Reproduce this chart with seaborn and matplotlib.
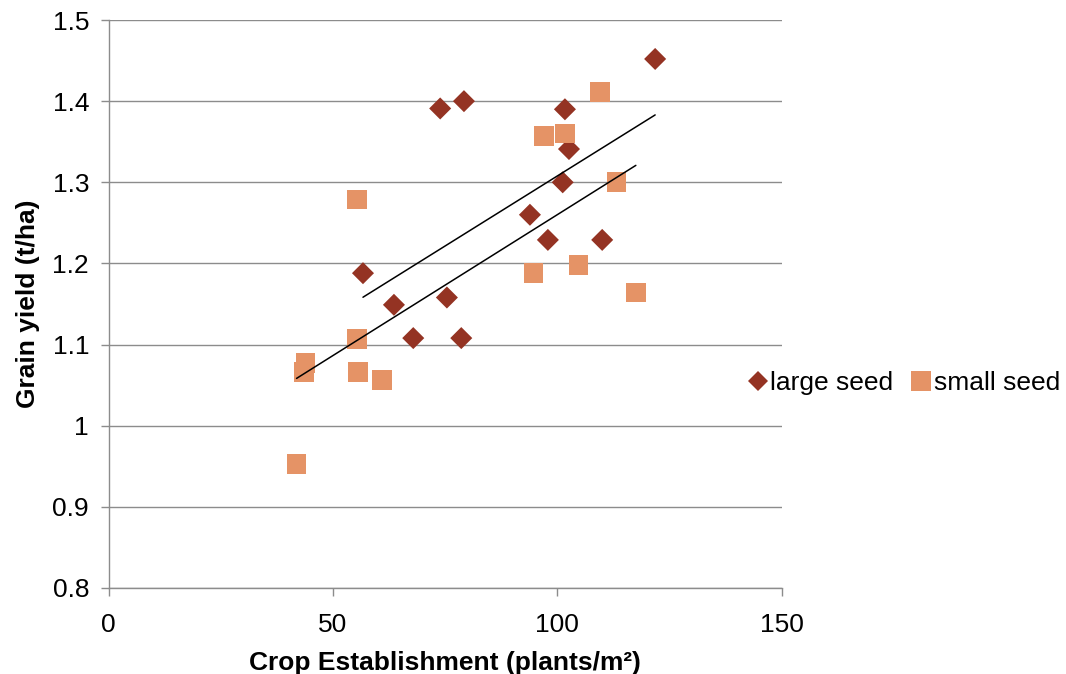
import matplotlib
matplotlib.use("Agg")
import matplotlib.pyplot as plt
from matplotlib.lines import Line2D
from matplotlib.ticker import FuncFormatter
import seaborn as sns
import pandas as pd

# values
large_x = [121.8, 73.9, 79.2, 101.7, 102.6, 101.2, 93.9, 97.9, 110.0, 56.7, 63.6, 75.4, 67.9, 78.6]
large_y = [1.452, 1.391, 1.400, 1.390, 1.341, 1.300, 1.260, 1.229, 1.229, 1.188, 1.149, 1.158, 1.108, 1.108]
small_x = [109.5, 97.1, 101.7, 113.2, 55.3, 94.7, 104.7, 117.5, 55.4, 43.9, 43.6, 55.6, 60.9, 41.9]
small_y = [1.411, 1.357, 1.360, 1.300, 1.279, 1.188, 1.198, 1.164, 1.107, 1.077, 1.066, 1.066, 1.056, 0.953]

x_ticks = [0, 50, 100, 150]
y_ticks = [0.8, 0.9, 1.0, 1.1, 1.2, 1.3, 1.4, 1.5]

df = pd.concat([
    pd.DataFrame({"x": large_x, "y": large_y, "series": "large seed"}),
    pd.DataFrame({"x": small_x, "y": small_y, "series": "small seed"}),
])

sns.set_style("white")
plt.rcParams["font.family"] = ["Liberation Sans", "DejaVu Sans"]

colors = {"large seed": "#943323", "small seed": "#E59366"}
markers = {"large seed": "D", "small seed": "s"}
msize = {"large seed": 126, "small seed": 200}

fig = plt.figure(figsize=(10.66, 6.74), dpi=100)
ax = fig.add_axes([0.1018, 0.1276, 0.6315, 0.8427])

for name, grp in df.groupby("series"):
    sns.scatterplot(data=grp, x="x", y="y", marker=markers[name], color=colors[name],
                    s=msize[name], edgecolor="none", linewidth=0, ax=ax, zorder=3)

# linear trendlines, one per series
for name, grp in df.groupby("series"):
    sns.regplot(data=grp, x="x", y="y", scatter=False, ci=None, truncate=True,
                color="black", line_kws={"linewidth": 1.1, "zorder": 4}, ax=ax)

ax.set_xlim(0, 150)
ax.set_ylim(0.8, 1.5)
ax.set_xticks(x_ticks)
ax.set_yticks(y_ticks)
ax.yaxis.set_major_formatter(FuncFormatter(lambda v, p: "%g" % round(v, 2)))
ax.grid(axis="y", color="#8c8c8c", linewidth=1)
ax.set_axisbelow(True)
for side in ["top", "right"]:
    ax.spines[side].set_visible(False)
for side in ["left", "bottom"]:
    ax.spines[side].set_color("#8c8c8c")
    ax.spines[side].set_linewidth(1)
ax.tick_params(axis="both", direction="out", length=6, width=1, color="#8c8c8c",
               labelsize=19, labelcolor="black")
ax.tick_params(axis="y", left=True, pad=8)
ax.tick_params(axis="x", bottom=True, pad=12)

ax.set_xlabel("Crop Establishment (plants/m²)", fontsize=19, fontweight="bold",
              color="black", labelpad=10)
ax.set_ylabel("Grain yield (t/ha)", fontsize=19, fontweight="bold",
              color="black", labelpad=9)

handles = [
    Line2D([], [], linestyle="none", marker="D", markersize=10, color=colors["large seed"], markeredgewidth=0),
    Line2D([], [], linestyle="none", marker="s", markersize=14, color=colors["small seed"], markeredgewidth=0),
]
fig.legend(handles, ["large seed", "small seed"], loc="center left", bbox_to_anchor=(0.690, 0.432),
           ncol=2, frameon=False, fontsize=19, handlelength=0.7, handletextpad=0.12,
           columnspacing=0.7, borderpad=0, labelcolor="black")

fig.savefig("out.png", dpi=100)
